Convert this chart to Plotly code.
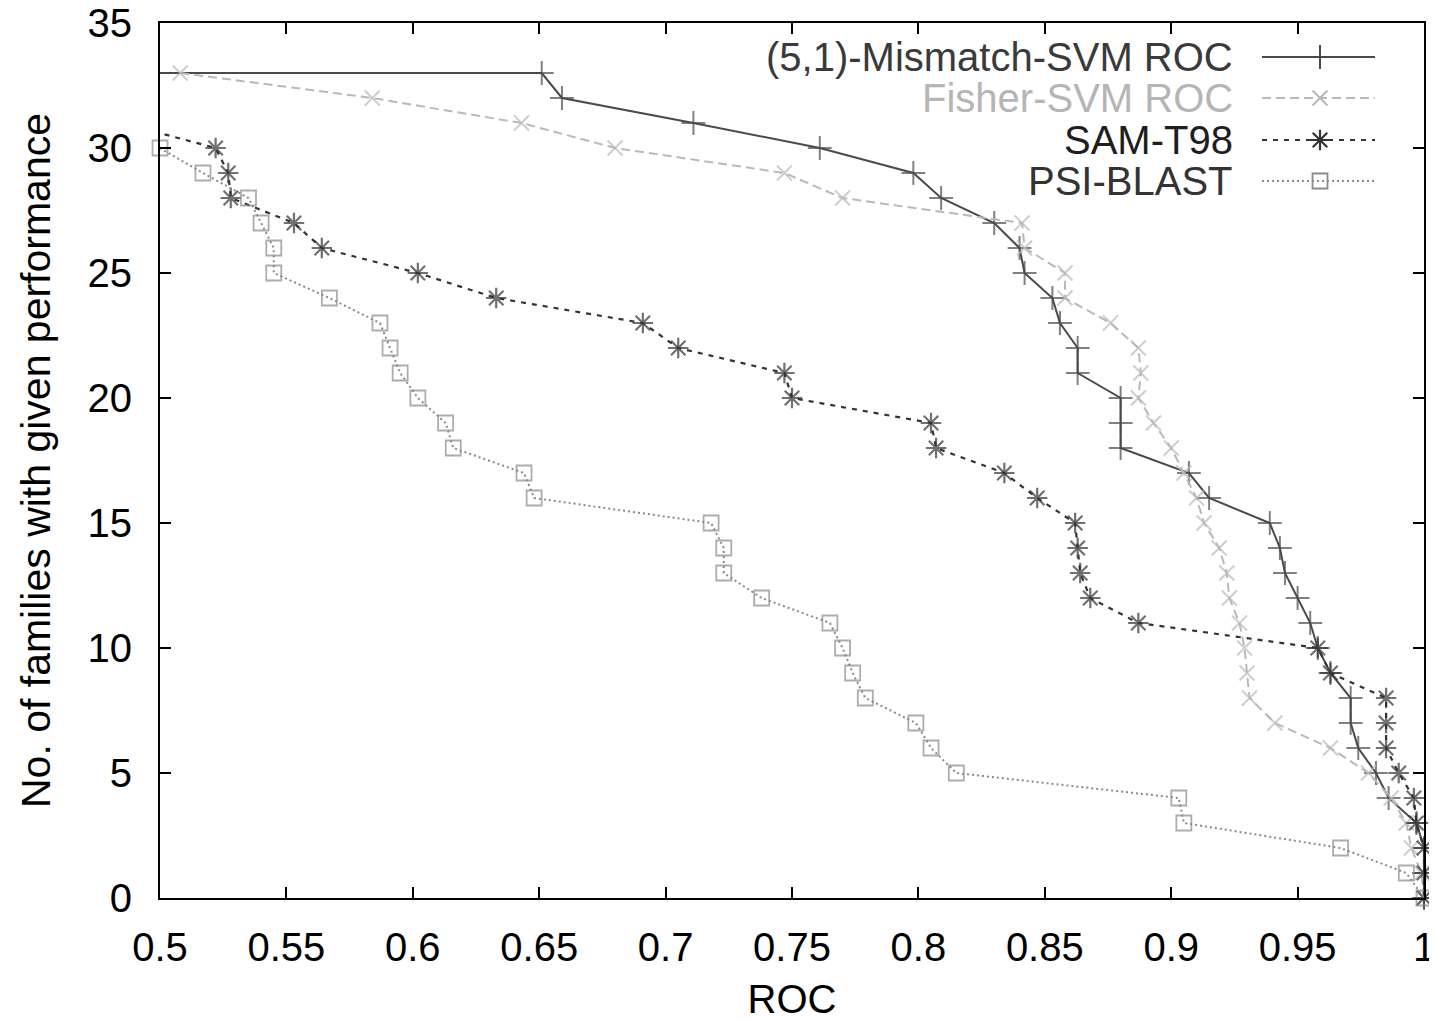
import plotly.graph_objects as go

# ---------------- data ----------------
roc_ticks = [0.5, 0.55, 0.6, 0.65, 0.7, 0.75, 0.8, 0.85, 0.9, 0.95, 1.0]
roc_tick_labels = ["0.5", "0.55", "0.6", "0.65", "0.7", "0.75", "0.8", "0.85", "0.9", "0.95", "1"]
count_ticks = [0, 5, 10, 15, 20, 25, 30, 35]

mismatch_roc = [0.45, 0.651, 0.659, 0.711, 0.761, 0.798, 0.809, 0.830, 0.840, 0.842,
                0.853, 0.856, 0.863, 0.863, 0.880, 0.880, 0.880, 0.907, 0.915, 0.939,
                0.943, 0.945, 0.950, 0.955, 0.958, 0.963, 0.971, 0.971, 0.974, 0.981,
                0.986, 0.997, 1.0, 1.0, 1.0]
mismatch_n = [33, 33, 32, 31, 30, 29, 28, 27, 26, 25, 24, 23, 22, 21, 20, 19, 18, 17,
              16, 15, 14, 13, 12, 11, 10, 9, 8, 7, 6, 5, 4, 3, 2, 1, 0]

fisher_roc = [0.508, 0.584, 0.643, 0.680, 0.747, 0.770, 0.841, 0.842, 0.858, 0.858,
              0.876, 0.887, 0.888, 0.887, 0.893, 0.900, 0.905, 0.910, 0.913, 0.919,
              0.922, 0.923, 0.927, 0.929, 0.930, 0.931, 0.941, 0.963, 0.978, 0.987,
              0.993, 0.995, 0.999, 1.0]
fisher_n = [33, 32, 31, 30, 29, 28, 27, 26, 25, 24, 23, 22, 21, 20, 19, 18, 17, 16,
            15, 14, 13, 12, 11, 10, 9, 8, 7, 6, 5, 4, 3, 2, 1, 0]

samt98_roc = [0.485, 0.522, 0.527, 0.528, 0.553, 0.564, 0.602, 0.633, 0.691, 0.705,
              0.747, 0.750, 0.805, 0.807, 0.834, 0.847, 0.862, 0.863, 0.864, 0.868,
              0.887, 0.958, 0.963, 0.985, 0.985, 0.985, 0.990, 0.996, 0.997, 1.0,
              1.0, 1.0]
samt98_n = [31, 30, 29, 28, 27, 26, 25, 24, 23, 22, 21, 20, 19, 18, 17, 16, 15, 14,
            13, 12, 11, 10, 9, 8, 7, 6, 5, 4, 3, 2, 1, 0]

psiblast_roc = [0.500, 0.517, 0.535, 0.540, 0.545, 0.545, 0.567, 0.587, 0.591, 0.595,
                0.602, 0.613, 0.616, 0.644, 0.648, 0.718, 0.723, 0.723, 0.738, 0.765,
                0.770, 0.774, 0.779, 0.799, 0.805, 0.815, 0.903, 0.905, 0.967, 0.993,
                1.0]
psiblast_n = [30, 29, 28, 27, 26, 25, 24, 23, 22, 21, 20, 19, 18, 17, 16, 15, 14, 13,
              12, 11, 10, 9, 8, 7, 6, 5, 4, 3, 2, 1, 0]

series_names = ["(5,1)-Mismatch-SVM ROC", "Fisher-SVM ROC", "SAM-T98", "PSI-BLAST"]

# ---------------- styles ----------------
FONT = "Liberation Sans, Arial, Helvetica, sans-serif"
styles = [
    dict(color="#4a4a4a", dash="solid", width=2.0, symbol="cross-thin-open", size=17, mlw=2.0, text="#3a3a3a"),
    dict(color="#b9b9b9", dash="9px,5px", width=2.0, symbol="x-thin-open", size=15, mlw=2.0, text="#b5b5b5"),
    dict(color="#333333", dash="5px,6px", width=2.2, symbol="asterisk-open", size=17, mlw=2.2, text="#1e1e1e"),
    dict(color="#8a8a8a", dash="2px,3px", width=2.0, symbol="square-open", size=15, mlw=1.8, text="#333333"),
]
data = [(mismatch_roc, mismatch_n), (fisher_roc, fisher_n),
        (samt98_roc, samt98_n), (psiblast_roc, psiblast_n)]

X_MIN, X_MAX = 0.5, 1.0
Y_MIN, Y_MAX = 0, 35

fig = go.Figure()
for name, (xs, ys), st in zip(series_names, data, styles):
    sizes = [st["size"] if X_MIN <= x <= X_MAX else 0 for x in xs]
    fig.add_trace(go.Scatter(
        x=xs, y=ys, mode="lines+markers", name=name, showlegend=False,
        cliponaxis=False,
        line=dict(color=st["color"], dash=st["dash"], width=st["width"]),
        marker=dict(symbol=st["symbol"], size=sizes, color=st["color"],
                    line=dict(color=st["color"], width=st["mlw"])),
    ))

# ---------------- manual gnuplot-style legend (text right-aligned, sample at right) ----
# page offset of the figure (body margin) and the plot-area box in page pixels
PAGE_OFF = 8
FIG_W, FIG_H = 1429, 1013
PLOT_L, PLOT_R, PLOT_T, PLOT_B = 160, 1424, 23, 898
legend_rows_y = [57, 98, 140, 181]
legend_text_right = 1235
legend_line_x0, legend_line_x1 = 1262, 1375
legend_marker_x = 1320

for name, st, ry in zip(series_names, styles, legend_rows_y):
    fig.add_trace(go.Scatter(
        x=[legend_line_x0, legend_line_x1], y=[ry, ry], mode="lines",
        xaxis="x2", yaxis="y2", showlegend=False, hoverinfo="skip",
        line=dict(color=st["color"], dash=st["dash"], width=st["width"]),
    ))
    fig.add_trace(go.Scatter(
        x=[legend_marker_x], y=[ry], mode="markers",
        xaxis="x2", yaxis="y2", showlegend=False, hoverinfo="skip",
        marker=dict(symbol=st["symbol"], size=st["size"], color=st["color"],
                    line=dict(color=st["color"], width=st["mlw"])),
    ))
    fig.add_annotation(
        x=legend_text_right, y=ry, xref="x2", yref="y2", text=name,
        showarrow=False, xanchor="right", yanchor="middle",
        font=dict(family=FONT, size=40, color=st["text"]),
    )

axis_common = dict(
    showline=True, linecolor="black", linewidth=2, mirror="ticks",
    ticks="inside", ticklen=11, tickwidth=1.5, tickcolor="black",
    showgrid=False, zeroline=False, ticklabeloverflow="allow",
    tickfont=dict(family=FONT, size=40, color="black"),
)

fig.update_layout(
    width=FIG_W, height=FIG_H,
    margin=dict(l=PLOT_L - PAGE_OFF, r=PAGE_OFF + FIG_W - PLOT_R,
                t=PLOT_T - PAGE_OFF, b=PAGE_OFF + FIG_H - PLOT_B, autoexpand=False),
    paper_bgcolor="white", plot_bgcolor="white",
    showlegend=False,
    xaxis=dict(range=[X_MIN, X_MAX], tickvals=roc_ticks, ticktext=roc_tick_labels,
               title=dict(text="ROC", font=dict(family=FONT, size=40, color="black"), standoff=24),
               ticklabelstandoff=13, **axis_common),
    yaxis=dict(range=[Y_MIN, Y_MAX], tickvals=count_ticks,
               title=dict(text="No. of families with given performance",
                          font=dict(family=FONT, size=41, color="black"), standoff=24),
               ticklabelstandoff=18, **axis_common),
    xaxis2=dict(overlaying="x", range=[PLOT_L, PLOT_R], visible=False, fixedrange=True),
    yaxis2=dict(overlaying="y", range=[PLOT_B, PLOT_T], visible=False, fixedrange=True),
)

fig.write_html("out.html")
